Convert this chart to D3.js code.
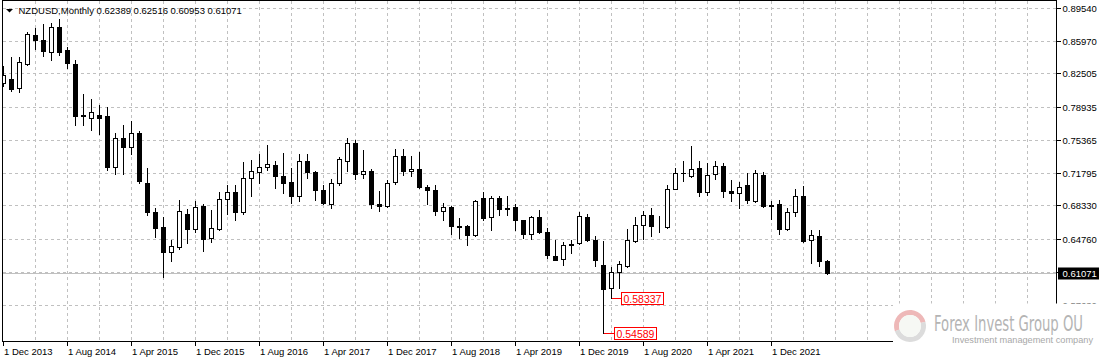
<!DOCTYPE html>
<html>
<head>
<meta charset="UTF-8">
<title>NZDUSD Monthly</title>
<style>
  body { margin: 0; background: #ffffff; }
  svg { display: block; font-family: 'Liberation Sans', Arial, sans-serif; }
</style>
</head>
<body>
<div id="chart"></div>
<script src="https://d3js.org/d3.v7.min.js"></script>
<script>
// monthly bars, first one is Dec 2013
const firstMonth = "2013-12";
const opens = [0.8150,0.8193,0.8092,0.8354,0.8666,0.8612,0.8479,0.8752,0.8505,0.8347,
  0.7809,0.7770,0.7809,0.7799,0.7247,0.7552,0.7462,0.7613,0.7076,0.6764,
  0.6603,0.6334,0.6391,0.6746,0.6577,0.6832,0.6485,0.6584,0.6904,0.6979,
  0.6760,0.7125,0.7189,0.7247,0.7269,0.7150,0.7086,0.6932,0.7312,0.7194,
  0.7000,0.6846,0.7076,0.7315,0.7505,0.7172,0.7204,0.6850,0.6824,0.7082,
  0.7369,0.7200,0.7226,0.7032,0.7000,0.6770,0.6817,0.6609,0.6613,0.6513,
  0.6914,0.6706,0.6914,0.6803,0.6817,0.6674,0.6523,0.6710,0.6549,0.6291,
  0.6258,0.6410,0.6431,0.6710,0.6466,0.6198,0.5947,0.6119,0.6180,0.6448,
  0.6624,0.6732,0.6609,0.6598,0.7011,0.7183,0.7146,0.7237,0.6975,0.7172,
  0.7261,0.6993,0.6961,0.7047,0.6878,0.7165,0.6838,0.6843,0.6581,0.6764,
  0.6939,0.6459,0.6509,0.62389];
const highs = [0.8328,0.8429,0.8429,0.8698,0.8741,0.8787,0.8795,0.8838,0.8537,0.8390,
  0.8035,0.7978,0.7917,0.7892,0.7613,0.7702,0.7745,0.7630,0.7237,0.6807,
  0.6710,0.6456,0.6896,0.6796,0.6885,0.6843,0.6781,0.6975,0.7057,0.7057,
  0.7297,0.7326,0.7380,0.7487,0.7312,0.7401,0.7237,0.7380,0.7380,0.7200,
  0.7054,0.7118,0.7351,0.7559,0.7533,0.7433,0.7226,0.6985,0.7111,0.7441,
  0.7441,0.7361,0.7405,0.7057,0.7057,0.6860,0.6824,0.6700,0.6627,0.6890,
  0.6975,0.6939,0.6939,0.6932,0.6843,0.6681,0.6724,0.6789,0.6592,0.6459,
  0.6437,0.6466,0.6760,0.6746,0.6509,0.6448,0.6173,0.6241,0.6581,0.6710,
  0.6771,0.6800,0.6724,0.7057,0.7237,0.7308,0.7469,0.7308,0.7290,0.7308,
  0.7290,0.7111,0.7086,0.7176,0.7218,0.7190,0.6878,0.6896,0.6807,0.7004,
  0.7039,0.6574,0.6574,0.62516];
const lows = [0.8113,0.8060,0.8049,0.8339,0.8515,0.8443,0.8400,0.8454,0.8304,0.7702,
  0.7702,0.7648,0.7605,0.7211,0.7172,0.7175,0.7380,0.7076,0.6735,0.6491,
  0.6066,0.6233,0.6366,0.6431,0.6549,0.6341,0.6437,0.6566,0.6746,0.6674,
  0.6745,0.6939,0.7076,0.7218,0.7025,0.6961,0.6861,0.6878,0.7125,0.6889,
  0.6843,0.6807,0.7047,0.7200,0.7122,0.7129,0.6810,0.6771,0.6817,0.7068,
  0.7164,0.7146,0.7020,0.6843,0.6727,0.6681,0.6531,0.6488,0.6413,0.6505,
  0.6681,0.6574,0.6725,0.6735,0.6574,0.6485,0.6477,0.6538,0.6270,0.6244,
  0.6198,0.6324,0.6420,0.6449,0.6180,0.54589,0.58337,0.5947,0.6173,0.6437,
  0.6477,0.6502,0.6545,0.6592,0.7004,0.7093,0.7140,0.6939,0.6950,0.7118,
  0.6921,0.6878,0.6803,0.6861,0.6868,0.6820,0.6692,0.6527,0.6566,0.6724,
  0.6440,0.6216,0.6187,0.60953];
const closes = [0.8239,0.8086,0.8376,0.8677,0.8608,0.8490,0.8752,0.8479,0.8365,0.7799,
  0.7791,0.7838,0.7770,0.7243,0.7552,0.7462,0.7613,0.7100,0.6760,0.6588,
  0.6334,0.6399,0.6775,0.6577,0.6818,0.6474,0.6592,0.6904,0.6979,0.6760,
  0.7129,0.7204,0.7247,0.7280,0.7146,0.7071,0.6932,0.7312,0.7189,0.6996,
  0.6856,0.7076,0.7333,0.7505,0.7172,0.7204,0.6846,0.6824,0.7076,0.7369,
  0.7200,0.7226,0.7028,0.7000,0.6770,0.6817,0.6609,0.6598,0.6513,0.6885,
  0.6703,0.6914,0.6799,0.6799,0.6674,0.6523,0.6710,0.6542,0.6305,0.6251,
  0.6404,0.6420,0.6721,0.6459,0.6244,0.5940,0.6119,0.6205,0.6456,0.6624,
  0.6732,0.6609,0.6616,0.7011,0.7183,0.7176,0.7226,0.6975,0.7165,0.7261,
  0.6986,0.6968,0.7032,0.6889,0.7176,0.6824,0.6826,0.6581,0.6764,0.6939,
  0.6448,0.6520,0.6233,0.61071];

const priceTicks = ["0.89540","0.85970","0.82505","0.78935","0.75365","0.71795","0.68330","0.64760","0.61190","0.57630"];
const timeLabels = ["1 Dec 2013","1 Aug 2014","1 Apr 2015","1 Dec 2015","1 Aug 2016","1 Apr 2017","1 Dec 2017","1 Aug 2018","1 Apr 2019","1 Dec 2019","1 Aug 2020","1 Apr 2021","1 Dec 2021"];
const labelEvery = 8;   // bars between time labels
const gridEvery = 4;    // bars between vertical grid lines
const symbol = "NZDUSD,Monthly";
const lastPrice = "0.61071";
const markedLows = [75, 76];  // bars with low price tags

const W = 1102, H = 362;
const pLeft = 2.5, pRight = 1056.5, pTop = 0.5, pBottom = 341.5;

const bars = opens.map((o, i) => ({ i, o, h: highs[i], l: lows[i], c: closes[i] }));

const svg = d3.select("#chart").append("svg")
  .attr("width", W).attr("height", H);

// index scale: 8 px per bar
const x = d3.scaleLinear().domain([0, (pRight - 3.5) / 8]).range([3.5, pRight]);
const y = d3.scaleLinear().domain([0.5763, 0.8954]).range([305.5, 8.5]);
const py = v => Math.round(y(v) - 0.5) + 0.5;

svg.append("defs").append("clipPath").attr("id", "plot")
  .append("rect").attr("x", pLeft).attr("y", pTop).attr("width", pRight - pLeft).attr("height", pBottom - pTop);

const plot = svg.append("g").attr("clip-path", "url(#plot)");

// grid
const grid = plot.append("g").attr("shape-rendering", "crispEdges")
  .attr("stroke", "#c0c0c0").attr("stroke-dasharray", "3,3");
grid.selectAll(".hg").data(priceTicks).enter().append("line")
  .attr("x1", pLeft).attr("x2", pRight)
  .attr("y1", d => py(+d)).attr("y2", d => py(+d));
const vIdx = d3.range(gridEvery, (pRight - 3.5) / 8, gridEvery);
grid.selectAll(".vg").data(vIdx).enter().append("line")
  .attr("x1", d => x(d)).attr("x2", d => x(d))
  .attr("y1", pTop).attr("y2", pBottom);

// current price line
plot.append("line")
  .attr("x1", pLeft).attr("x2", pRight)
  .attr("y1", py(+lastPrice)).attr("y2", py(+lastPrice))
  .attr("stroke", "#c0c0c0").attr("shape-rendering", "crispEdges");

// candles
const cg = plot.append("g").attr("shape-rendering", "crispEdges");
const candle = cg.selectAll(".bar").data(bars).enter().append("g");
candle.append("line")
  .attr("x1", d => x(d.i)).attr("x2", d => x(d.i))
  .attr("y1", d => py(d.h) - 0.5).attr("y2", d => py(d.l) + 0.5)
  .attr("stroke", "#000");
candle.append("rect")
  .attr("x", d => d.c >= d.o ? x(d.i) - 2 : x(d.i) - 2.5)
  .attr("width", d => d.c >= d.o ? 4 : 5)
  .attr("y", d => d.c >= d.o ? py(d.c) : py(d.o) - 0.5)
  .attr("height", d => {
    const hgt = Math.abs(py(d.o) - py(d.c));
    return d.c >= d.o ? hgt : Math.max(1, hgt + 1);
  })
  .attr("fill", d => d.c >= d.o ? "#fff" : "#000")
  .attr("stroke", d => d.c >= d.o ? "#000" : "none");

// low price tags
markedLows.forEach(i => {
  const b = bars[i];
  const ly = py(b.l);
  const bx = x(i) + (i === 75 ? 11 : 10);
  plot.append("line").attr("x1", x(i)).attr("x2", bx).attr("y1", ly).attr("y2", ly)
    .attr("stroke", "#ff0000").attr("shape-rendering", "crispEdges");
  plot.append("rect").attr("x", bx).attr("y", ly - 6).attr("width", 42).attr("height", 12)
    .attr("fill", "#fff").attr("stroke", "#ff0000").attr("shape-rendering", "crispEdges");
  plot.append("text").attr("x", bx + 2).attr("y", ly + 4.5)
    .attr("font-size", "10.5px").attr("fill", "#ff0000")
    .text(b.l.toFixed(5));
});

// frame
svg.append("rect").attr("x", pLeft).attr("y", pTop).attr("width", pRight - pLeft).attr("height", pBottom - pTop)
  .attr("fill", "none").attr("stroke", "#000").attr("shape-rendering", "crispEdges");

// price axis
const pa = svg.append("g");
pa.selectAll("line").data(priceTicks).enter().append("line")
  .attr("x1", pRight).attr("x2", pRight + 4)
  .attr("y1", d => py(+d)).attr("y2", d => py(+d))
  .attr("stroke", "#000").attr("shape-rendering", "crispEdges");
pa.selectAll("text").data(priceTicks).enter().append("text")
  .attr("x", pRight + 6).attr("y", d => py(+d) + 3.5)
  .attr("font-size", "9.5px").attr("fill", "#000")
  .text(d => d);

// last price tag
const lp = py(+lastPrice);
svg.append("rect").attr("x", pRight + 1.5).attr("y", lp - 6).attr("width", 41).attr("height", 12).attr("fill", "#000");
svg.append("text").attr("x", pRight + 6).attr("y", lp + 3.5)
  .attr("font-size", "9.5px").attr("fill", "#fff").text(lastPrice);

// time axis
const ta = svg.append("g");
ta.selectAll("line").data(timeLabels).enter().append("line")
  .attr("x1", (d, k) => x(k * labelEvery)).attr("x2", (d, k) => x(k * labelEvery))
  .attr("y1", pBottom).attr("y2", pBottom + 4)
  .attr("stroke", "#000").attr("shape-rendering", "crispEdges");
ta.selectAll("text").data(timeLabels).enter().append("text")
  .attr("x", (d, k) => x(k * labelEvery) + 0.5).attr("y", 355)
  .attr("font-size", "9.5px").attr("fill", "#000")
  .text(d => d);

// title
svg.append("path").attr("d", "M6,9 L13,9 L9.5,12.5 Z").attr("fill", "#000");
svg.append("text").attr("x", 18.5).attr("y", 14).attr("font-size", "9.5px").attr("fill", "#000")
  .text(symbol + "  " + [opens, highs, lows, closes].map(a => a[a.length - 1].toFixed(5)).join(" "));

// watermark
const wm = svg.append("g");
wm.append("rect").attr("x", 893).attr("y", 303.5).attr("width", W - 893).attr("height", H - 303.5).attr("fill", "#fff");
const arc = d3.arc().innerRadius(11).outerRadius(16);
const logo = wm.append("g").attr("transform", "translate(910,326)");
logo.append("path").attr("d", arc({ startAngle: -1.9, endAngle: 1.3 })).attr("fill", "#e8a0a0").attr("opacity", 0.75);
logo.append("path").attr("d", arc({ startAngle: 1.3, endAngle: 4.38 })).attr("fill", "#d8d8d8").attr("opacity", 0.9);
logo.append("circle").attr("r", 11).attr("fill", "#f6f8f4");
wm.append("text").attr("x", 934).attr("y", 331)
  .attr("font-family", "'DejaVu Sans Condensed', 'Liberation Sans Narrow', sans-serif")
  .attr("font-size", "21px").attr("fill", "#b4b4b4")
  .attr("textLength", 149).attr("lengthAdjust", "spacingAndGlyphs")
  .text("Forex Invest Group OU");
wm.append("text").attr("x", 952).attr("y", 343)
  .attr("font-size", "9px").attr("fill", "#a8a8a8")
  .attr("textLength", 141).attr("lengthAdjust", "spacingAndGlyphs")
  .text("Investment management company");
</script>
</body>
</html>
